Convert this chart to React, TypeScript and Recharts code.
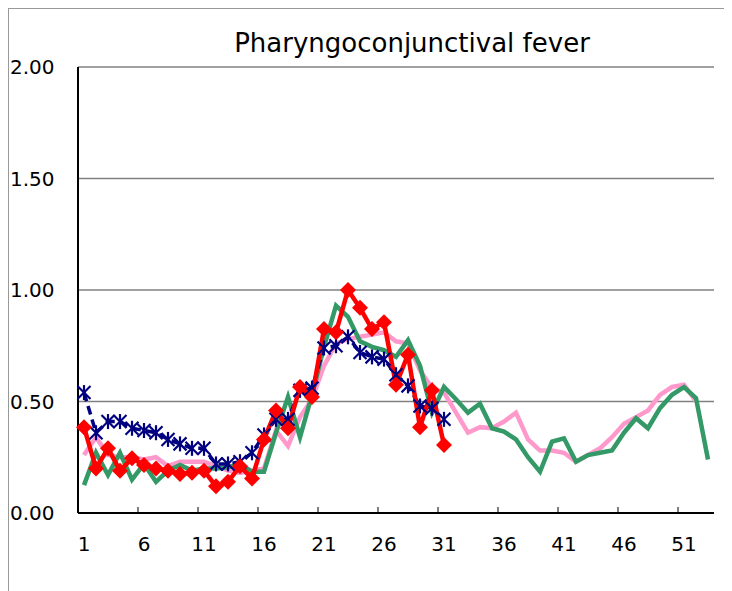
import React from "react";
import { CartesianGrid, Line, LineChart, XAxis, YAxis } from "recharts";

const weeks = Array.from({ length: 53 }, (_, i) => String(i + 1));

// last year's average (pink), 52 weeks
const pinkValues = [
  0.26, 0.34, 0.26, 0.25, 0.25, 0.24, 0.25, 0.21, 0.23, 0.23,
  0.23, 0.21, 0.19, 0.18, 0.19, 0.2, 0.37, 0.3, 0.43, 0.51,
  0.66, 0.76, 0.78, 0.79, 0.8, 0.81, 0.77, 0.76, 0.64, 0.56,
  0.54, 0.45, 0.36, 0.385, 0.38, 0.41, 0.45, 0.33, 0.28, 0.28,
  0.27, 0.23, 0.26, 0.29, 0.34, 0.4, 0.43, 0.46, 0.53, 0.565,
  0.575, 0.5,
];

// green, 53 weeks
const greenValues = [
  0.125, 0.27, 0.17, 0.27, 0.15, 0.22, 0.14, 0.19, 0.215, 0.19,
  0.2, 0.2, 0.205, 0.22, 0.185, 0.185, 0.36, 0.52, 0.34, 0.53,
  0.745, 0.93, 0.88, 0.77, 0.745, 0.73, 0.7, 0.775, 0.66, 0.45,
  0.565, 0.51, 0.45, 0.49, 0.38, 0.365, 0.33, 0.25, 0.185, 0.32,
  0.335, 0.23, 0.26, 0.27, 0.28, 0.36, 0.425, 0.38, 0.47, 0.53,
  0.565, 0.515, 0.24,
];

// navy dashed with asterisks, 31 weeks
const navyValues = [
  0.54, 0.36, 0.41, 0.41, 0.38, 0.37, 0.36, 0.33, 0.31, 0.29,
  0.29, 0.22, 0.22, 0.23, 0.27, 0.35, 0.42, 0.42, 0.55, 0.56,
  0.74, 0.75, 0.79, 0.72, 0.7, 0.69, 0.62, 0.57, 0.48, 0.47,
  0.42,
];

// red with diamonds, 31 weeks
const redValues = [
  0.385, 0.2, 0.29, 0.19, 0.245, 0.215, 0.2, 0.19, 0.175, 0.18,
  0.19, 0.12, 0.14, 0.21, 0.155, 0.33, 0.46, 0.38, 0.565, 0.52,
  0.825, 0.81, 1.0, 0.92, 0.825, 0.855, 0.575, 0.71, 0.385, 0.55,
  0.305,
];

const yTicks = [0, 0.5, 1, 1.5, 2];

const data = weeks.map((week, i) => ({
  week,
  pink: pinkValues[i],
  green: greenValues[i],
  navy: navyValues[i],
  red: redValues[i],
}));

const FONT = "'DejaVu Sans', sans-serif";
const PLOT_BOTTOM = 504;
const HALF_STEP = 6;

function YTick({ y, payload }: any) {
  return (
    <text x={1} y={y} dy={7} fontSize={20} fontFamily={FONT} fill="#000" textAnchor="start">
      {Number(payload.value).toFixed(2)}
    </text>
  );
}

function XTick({ x, payload, index }: any) {
  return (
    <g>
      {index > 0 && (
        <line x1={x - HALF_STEP} x2={x - HALF_STEP} y1={PLOT_BOTTOM} y2={PLOT_BOTTOM - 6} stroke="#000" strokeWidth={1} />
      )}
      <text x={x} y={PLOT_BOTTOM + 38} fontSize={20} fontFamily={FONT} fill="#000" textAnchor="middle">
        {payload.value}
      </text>
    </g>
  );
}

function Asterisk({ cx, cy, value }: any) {
  if (value == null || cx == null) return null;
  const r = 6.5;
  return (
    <g stroke="#000080" strokeWidth={2.2}>
      <line x1={cx - r} y1={cy - r} x2={cx + r} y2={cy + r} />
      <line x1={cx - r} y1={cy + r} x2={cx + r} y2={cy - r} />
      <line x1={cx} y1={cy - r - 1} x2={cx} y2={cy + r + 1} />
    </g>
  );
}

function Diamond({ cx, cy, value }: any) {
  if (value == null || cx == null) return null;
  const r = 8;
  return (
    <polygon
      points={`${cx},${cy - r} ${cx + r},${cy} ${cx},${cy + r} ${cx - r},${cy}`}
      fill="#ff0000"
    />
  );
}

export default function App() {
  return (
    <div style={{ position: "relative", width: 723, height: 582, borderTop: "1px solid #999", borderLeft: "1px solid #999" }}>
      <div
        style={{
          position: "absolute",
          left: 37,
          top: 19,
          width: 732,
          textAlign: "center",
          fontFamily: FONT,
          fontSize: 26,
          color: "#000",
        }}
      >
        Pharyngoconjunctival fever
      </div>
      <LineChart width={723} height={582} data={data} margin={{ top: 58, right: 18, bottom: 38, left: 0 }}>
        <CartesianGrid vertical={false} stroke="#808080" strokeWidth={1.5} />
        <XAxis
          dataKey="week"
          interval={4}
          padding={{ left: HALF_STEP, right: HALF_STEP }}
          tickLine={false}
          axisLine={{ stroke: "#000", strokeWidth: 2 }}
          tick={<XTick />}
          height={40}
        />
        <YAxis
          domain={[0, 2]}
          ticks={yTicks}
          width={69}
          tickLine={false}
          axisLine={{ stroke: "#000", strokeWidth: 2 }}
          tick={<YTick />}
        />
        <YAxis
          yAxisId="right"
          orientation="right"
          domain={[0, 2]}
          width={0}
          tick={false}
          tickLine={false}
          axisLine={{ stroke: "#909090", strokeWidth: 2.5 }}
        />
        <Line dataKey="pink" stroke="#ff99cc" strokeWidth={4.5} dot={false} isAnimationActive={false} />
        <Line dataKey="green" stroke="#339966" strokeWidth={4.5} dot={false} isAnimationActive={false} />
        <Line
          dataKey="navy"
          stroke="#000080"
          strokeWidth={3.5}
          strokeDasharray="9 5"
          dot={<Asterisk />}
          isAnimationActive={false}
        />
        <Line dataKey="red" stroke="#ff0000" strokeWidth={4.5} dot={<Diamond />} isAnimationActive={false} />
      </LineChart>
    </div>
  );
}
